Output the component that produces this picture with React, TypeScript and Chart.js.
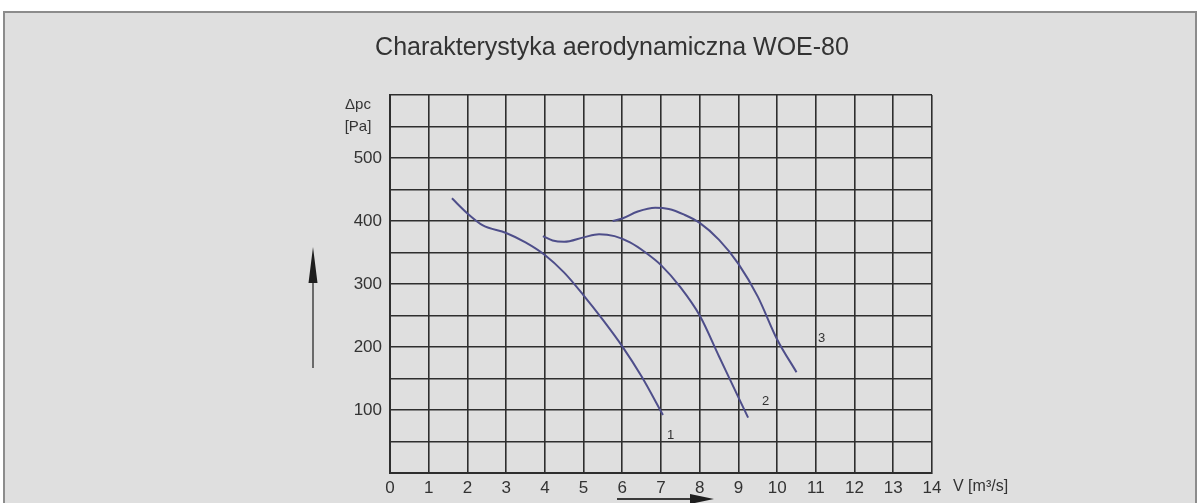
import React, { useEffect, useRef } from 'react';
import { Chart, registerables } from 'chart.js';

Chart.register(...registerables);

const chartTitle = 'Charakterystyka aerodynamiczna WOE-80';
const xAxisLabel = 'V [m³/s]';
const yAxisLabelTop = 'Δpc';
const yAxisLabelUnit = '[Pa]';

const xMin = 0;
const xMax = 14;
const yMin = 0;
const yMax = 600;
const yStep = 50;

// curve 1
const curve1V = [1.6, 2.0, 2.4, 3.0, 3.5, 4.0, 4.5, 5.0, 5.5, 6.0, 6.5, 7.05];
const curve1P = [436, 412, 393, 381, 366, 346, 318, 282, 243, 201, 153, 92];
// curve 2
const curve2V = [3.95, 4.2, 4.5, 5.0, 5.4, 5.8, 6.2, 6.6, 7.0, 7.5, 8.0, 8.5, 9.0, 9.25];
const curve2P = [376, 369, 367, 374, 379, 376, 366, 350, 330, 295, 250, 185, 120, 88];
// curve 3
const curve3V = [5.75, 6.0, 6.4, 6.85, 7.2, 7.6, 8.0, 8.5, 9.0, 9.5, 10.0, 10.5];
const curve3P = [400, 404, 415, 421, 419, 410, 397, 370, 332, 280, 212, 160];

const curveNames = ['1', '2', '3'];
const curveLabelV = [7.25, 9.7, 11.15];
const curveLabelP = [60, 113, 213];

const curveColor = '#4e4e8a';
const gridColor = '#2e2e2e';
const textColor = '#333333';
const FONT = '"Liberation Sans", Arial, sans-serif';

const toPoints = (vs: number[], ps: number[]) => vs.map((v, i) => ({ x: v, y: ps[i] }));

export default function App() {
  const canvasRef = useRef<HTMLCanvasElement | null>(null);

  useEffect(() => {
    document.body.style.margin = '0';
    const canvas = canvasRef.current;
    if (!canvas) return;

    const decorations = {
      id: 'decorations',
      afterDraw(chart: any) {
        const ctx = chart.ctx as CanvasRenderingContext2D;
        const area = chart.chartArea;
        const xs = chart.scales.x;
        const ys = chart.scales.y;
        ctx.save();
        // title
        ctx.fillStyle = textColor;
        ctx.font = `25px ${FONT}`;
        ctx.textAlign = 'center';
        ctx.textBaseline = 'middle';
        ctx.fillText(chartTitle, 612, 48);

        // y axis label
        ctx.font = `15px ${FONT}`;
        ctx.textAlign = 'center';
        ctx.fillText(yAxisLabelTop, area.left - 32, area.top + 10);
        ctx.fillText(yAxisLabelUnit, area.left - 32, area.top + 32);

        // x axis label
        ctx.font = `16px ${FONT}`;
        ctx.textAlign = 'left';
        ctx.fillText(xAxisLabel, area.right + 21, area.bottom + 14);

        // curve labels
        ctx.font = `13px ${FONT}`;
        ctx.textAlign = 'center';
        curveNames.forEach((n, i) => {
          ctx.fillText(n, xs.getPixelForValue(curveLabelV[i]), ys.getPixelForValue(curveLabelP[i]));
        });

        // up arrow
        const ax = area.left - 77;
        ctx.strokeStyle = '#6a6a6a';
        ctx.lineWidth = 2;
        ctx.beginPath();
        ctx.moveTo(ax, 368);
        ctx.lineTo(ax, 280);
        ctx.stroke();
        ctx.fillStyle = '#1e1e1e';
        ctx.beginPath();
        ctx.moveTo(ax, 247);
        ctx.lineTo(ax + 4.5, 283);
        ctx.lineTo(ax - 4.5, 283);
        ctx.closePath();
        ctx.fill();

        // right arrow
        const ay = 499;
        ctx.strokeStyle = '#3a3a3a';
        ctx.beginPath();
        ctx.moveTo(617, ay);
        ctx.lineTo(695, ay);
        ctx.stroke();
        ctx.fillStyle = '#1e1e1e';
        ctx.beginPath();
        ctx.moveTo(714, ay);
        ctx.lineTo(690, ay - 5);
        ctx.lineTo(690, ay + 5);
        ctx.closePath();
        ctx.fill();
        ctx.restore();
      },
    };

    const lineStyle = {
      showLine: true,
      borderColor: curveColor,
      backgroundColor: curveColor,
      borderWidth: 2,
      pointRadius: 0,
      cubicInterpolationMode: 'monotone' as const,
      fill: false,
    };

    const chart = new Chart(canvas, {
      type: 'scatter',
      data: {
        datasets: [
          { label: '1', data: toPoints(curve1V, curve1P), ...lineStyle },
          { label: '2', data: toPoints(curve2V, curve2P), ...lineStyle },
          { label: '3', data: toPoints(curve3V, curve3P), ...lineStyle },
        ],
      },
      options: {
        animation: false,
        responsive: false,
        maintainAspectRatio: false,
        layout: { padding: { left: 310, right: 266, top: 95, bottom: 0 } },
        plugins: {
          legend: { display: false },
          tooltip: { enabled: false },
          title: { display: false },
        },
        scales: {
          x: {
            type: 'linear',
            min: xMin,
            max: xMax,
            afterFit: (s: any) => { s.height = 30; },
            ticks: {
              stepSize: 1,
              color: textColor,
              font: { family: FONT, size: 17 },
              padding: 5,
              maxRotation: 0,
              autoSkip: false,
            },
            grid: { color: gridColor, lineWidth: 1.6, drawTicks: false },
            border: { color: gridColor, width: 2 },
          },
          y: {
            type: 'linear',
            min: yMin,
            max: yMax,
            afterFit: (s: any) => { s.width = 80; },
            ticks: {
              stepSize: yStep,
              color: textColor,
              font: { family: FONT, size: 17 },
              padding: 8,
              autoSkip: false,
              callback: (v: any) => (v % 100 === 0 && v > 0 && v < yMax ? String(v) : ''),
            },
            grid: { color: gridColor, lineWidth: 1.6, drawTicks: false },
            border: { color: gridColor, width: 2 },
          },
        },
      },
      plugins: [decorations],
    });

    return () => chart.destroy();
  }, []);

  return (
    <div style={{ position: 'relative', width: 1198, height: 503, background: '#ffffff', overflow: 'hidden' }}>
      <div
        style={{
          position: 'absolute',
          left: 3,
          top: 11,
          width: 1190,
          height: 500,
          background: '#dfdfdf',
          borderTop: '2px solid #8c8c8c',
          borderLeft: '2px solid #8c8c8c',
          borderRight: '2px solid #8c8c8c',
        }}
      />
      <canvas
        ref={canvasRef}
        width={1198}
        height={503}
        style={{ position: 'absolute', left: 0, top: 0, width: 1198, height: 503 }}
      />
    </div>
  );
}
